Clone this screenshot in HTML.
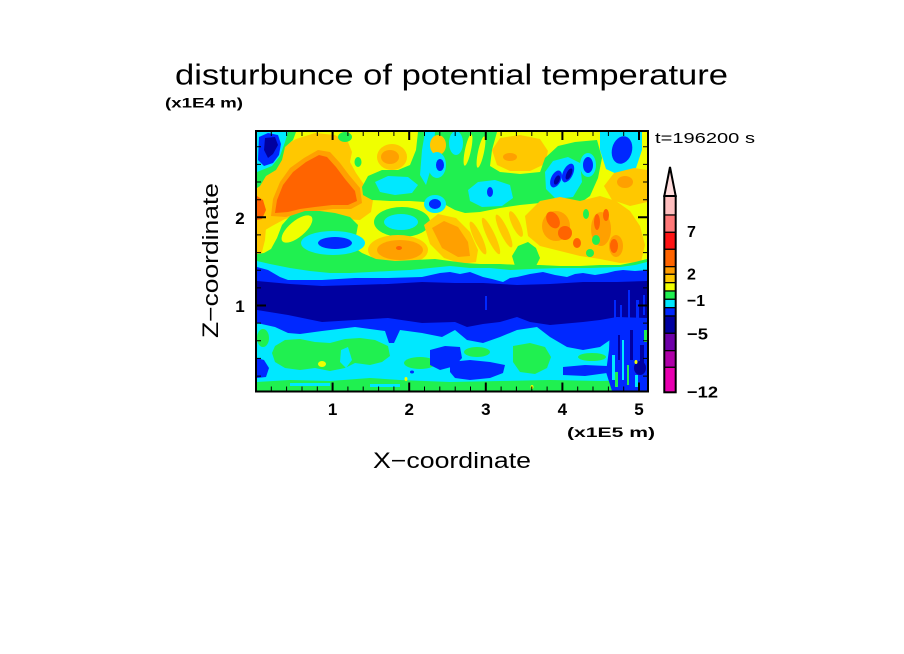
<!DOCTYPE html>
<html><head><meta charset="utf-8"><style>
html,body{margin:0;padding:0;background:#fff;}
svg{display:block;font-family:"Liberation Sans",sans-serif;}
</style></head><body>
<svg width="904" height="654" viewBox="0 0 904 654" xmlns="http://www.w3.org/2000/svg">
<defs><clipPath id="c"><rect x="257" y="132" width="390" height="258.5"/></clipPath></defs>
<rect x="0" y="0" width="904" height="654" fill="#fff"/>
<g clip-path="url(#c)">
<rect x="250" y="125" width="410" height="275" fill="#f0ff00"/>
<!-- big gold region -->
<path fill="#ffc800" d="M257,190 L262,172 L270,158 L282,147 L296,139 L315,133 L335,135 L348,142 L352,152 L350,162 L356,173 L365,186 L373,200 L371,212 L360,220 L340,219 L320,215 L300,215 L285,219 L272,226 L262,232 L257,235 Z"/>
<path fill="#ffc800" d="M257,195 L264,198 L267,215 L265,240 L261,256 L257,258 Z"/>
<path fill="#ffa000" d="M271,216 L273,199 L280,182 L290,168 L304,158 L318,150 L330,152 L340,163 L349,175 L360,188 L362,203 L351,209 L333,209 L316,211 L300,213 L286,217 Z"/>
<path fill="#ff6400" d="M275,213 L277,200 L283,185 L293,172 L306,162 L319,155 L327,157 L336,167 L345,179 L355,191 L357,201 L348,205 L332,205 L315,207 L300,209 L288,212 Z"/>
<path fill="#ff6400" d="M257,196 L263,200 L266,210 L262,219 L257,220 Z"/>
<!-- top-left blob -->
<path fill="#20f050" d="M257,132 L296,132 L293,140 L285,147 L282,160 L276,170 L266,176 L260,186 L257,188 Z"/>
<path fill="#00e8ff" d="M257,132 L288,132 L285,142 L280,156 L272,166 L262,170 L257,172 Z"/>
<path fill="#0028ff" d="M259,137 L268,133 L278,135 L281,144 L279,155 L273,163 L264,166 L258,160 Z"/>
<path fill="#0000a0" d="M265,138 L275,137 L278,145 L273,154 L268,158 L264,150 Z"/>
<ellipse cx="358" cy="162" rx="3.5" ry="5" fill="#20f050"/>
<ellipse cx="345" cy="137" rx="7" ry="5" fill="#20f050"/>
<!-- upper middle green band -->
<path fill="#20f050" d="M362,187 L368,176 L382,170 L398,170 L410,165 L416,150 L418,132 L497,132 L492,150 L490,166 L500,172 L520,174 L540,172 L556,172 L563,182 L557,196 L540,203 L520,205 L500,208 L480,212 L465,213 L455,210 L442,203 L425,202 L410,201 L390,201 L372,200 L363,195 Z"/>
<ellipse cx="468" cy="150" rx="3" ry="16" transform="rotate(12 468 150)" fill="#f0ff00"/>
<ellipse cx="481" cy="152" rx="3" ry="16" transform="rotate(12 481 152)" fill="#f0ff00"/>
<path fill="#00e8ff" d="M425,132 L435,132 L432,165 L426,185 L420,175 L422,150 Z"/>
<ellipse cx="456" cy="143" rx="7" ry="12" fill="#00e8ff"/>
<ellipse cx="438" cy="145" rx="8" ry="10" fill="#ffc800"/>
<ellipse cx="392" cy="157" rx="15" ry="13" fill="#ffc800"/>
<ellipse cx="390" cy="157" rx="9" ry="7" fill="#ffa000"/>
<path fill="#00e8ff" d="M375,182 L388,176 L408,177 L418,185 L412,193 L395,195 L380,192 Z"/>
<path fill="#00e8ff" d="M468,190 L478,182 L495,180 L510,185 L513,198 L502,206 L482,207 L470,201 Z"/>
<ellipse cx="490" cy="192" rx="3" ry="5" fill="#0028ff"/>
<ellipse cx="437" cy="165" rx="9" ry="13" fill="#00e8ff"/>
<ellipse cx="440" cy="165" rx="4" ry="6" fill="#0028ff"/>
<ellipse cx="435" cy="204" rx="11" ry="9" fill="#00e8ff"/>
<ellipse cx="435" cy="204" rx="6" ry="5" fill="#0028ff"/>
<ellipse cx="402" cy="222" rx="28" ry="15" fill="#20f050"/>
<ellipse cx="401" cy="222" rx="17" ry="8" fill="#00e8ff"/>
<ellipse cx="398" cy="250" rx="30" ry="15" fill="#ffc800"/>
<ellipse cx="400" cy="250" rx="23" ry="10" fill="#ffa000"/>
<ellipse cx="399" cy="248" rx="3" ry="2" fill="#ff6400"/>
<path fill="#ffc800" d="M424,225 L438,214 L456,218 L470,232 L478,250 L476,262 L462,264 L444,258 L430,244 Z"/>
<path fill="#ffa000" d="M432,228 L444,221 L458,227 L468,242 L470,256 L458,257 L442,248 Z"/>
<!-- right upper -->
<path fill="#ffc800" d="M492,150 L500,138 L520,135 L540,139 L548,151 L545,164 L530,171 L510,171 L497,165 Z"/>
<ellipse cx="510" cy="157" rx="7" ry="4" fill="#ffa000"/>
<path fill="#20f050" d="M538,178 L545,158 L558,146 L575,142 L597,140 L602,158 L598,178 L590,196 L576,206 L560,210 L546,202 Z"/>
<path fill="#00e8ff" d="M545,172 L553,161 L568,157 L580,163 L582,182 L573,197 L556,199 L546,189 Z"/>
<ellipse cx="556" cy="179" rx="5" ry="9" transform="rotate(25 556 179)" fill="#0028ff"/>
<ellipse cx="568" cy="173" rx="5" ry="10" transform="rotate(25 568 173)" fill="#0028ff"/>
<ellipse cx="557" cy="180" rx="2.5" ry="5" transform="rotate(25 557 180)" fill="#0000a0"/>
<ellipse cx="569" cy="174" rx="2.5" ry="6" transform="rotate(25 569 174)" fill="#0000a0"/>
<ellipse cx="588" cy="165" rx="8" ry="12" fill="#00e8ff"/>
<ellipse cx="588" cy="165" rx="5" ry="8" fill="#0028ff"/>
<path fill="#00e8ff" d="M600,132 L642,132 L642,150 L636,168 L621,176 L606,169 L600,150 Z"/>
<ellipse cx="622" cy="150" rx="10" ry="14" transform="rotate(15 622 150)" fill="#0028ff"/>
<path fill="#ffc800" d="M604,186 L614,173 L634,168 L647,170 L647,202 L630,206 L612,200 Z"/>
<ellipse cx="625" cy="182" rx="8" ry="6" fill="#ffa000"/>
<!-- middle right -->
<path fill="#ffc800" d="M525,216 L540,201 L560,197 L580,201 L600,196 L616,201 L630,211 L640,226 L645,245 L641,262 L620,263 L600,259 L580,256 L560,251 L540,246 L528,236 Z"/>
<ellipse cx="556" cy="226" rx="14" ry="15" fill="#ffa000"/>
<ellipse cx="601" cy="229" rx="10" ry="17" fill="#ffa000"/>
<ellipse cx="616" cy="246" rx="7" ry="11" fill="#ffa000"/>
<ellipse cx="553" cy="220" rx="6" ry="9" transform="rotate(-30 553 220)" fill="#ff6400"/>
<ellipse cx="565" cy="233" rx="7" ry="7" fill="#ff6400"/>
<ellipse cx="597" cy="222" rx="3" ry="8" fill="#ff6400"/>
<ellipse cx="577" cy="243" rx="4" ry="5" fill="#ff6400"/>
<ellipse cx="614" cy="246" rx="4" ry="7" fill="#ff6400"/>
<ellipse cx="606" cy="215" rx="3" ry="6" fill="#ff6400"/>
<ellipse cx="586" cy="214" rx="3" ry="5" fill="#20f050"/>
<ellipse cx="596" cy="240" rx="4" ry="5" fill="#20f050"/>
<ellipse cx="590" cy="253" rx="4" ry="4" fill="#20f050"/>
<ellipse cx="478" cy="238" rx="4" ry="18" transform="rotate(-25 478 238)" fill="#ffc800"/>
<ellipse cx="491" cy="236" rx="4" ry="20" transform="rotate(-25 491 236)" fill="#ffc800"/>
<ellipse cx="504" cy="231" rx="4" ry="18" transform="rotate(-25 504 231)" fill="#ffc800"/>
<ellipse cx="516" cy="224" rx="4" ry="14" transform="rotate(-25 516 224)" fill="#ffc800"/>
<path fill="#20f050" d="M512,256 L518,246 L528,242 L536,248 L540,258 L536,266 L515,266 Z"/>
<!-- lower zones -->
<path fill="#20f050" d="M257,254 L264,253 L271,249 L277,238 L282,225 L290,216 L305,211 L320,211 L335,213 L350,217 L358,225 L356,236 L352,246 L362,253 L376,259 L395,261 L415,260 L435,259 L450,261 L465,263 L480,264 L500,264 L520,265 L540,265 L560,266 L580,266 L600,265 L620,265 L635,262 L647,259 L647,391 L257,391 Z"/>
<ellipse cx="297" cy="229" rx="19" ry="8" transform="rotate(-40 297 229)" fill="#f0ff00"/>
<ellipse cx="333" cy="243" rx="32" ry="12" fill="#00e8ff"/>
<ellipse cx="335" cy="243" rx="17" ry="6" fill="#0028ff"/>
<path fill="#00e8ff" d="M257,261 L270,264 L290,268 L310,271 L330,273 L350,273 L370,272 L390,271 L410,270 L430,268 L450,266 L470,268 L490,268 L510,270 L530,269 L560,268 L590,268 L620,267 L635,265 L647,262 L647,391 L257,391 Z"/>
<path fill="#0028ff" d="M257,267 L268,270 L280,277 L288,280 L322,280 L355,278 L388,278 L422,277 L440,273 L450,272 L460,274 L470,272 L483,277 L492,279 L503,282 L510,278 L517,277 L530,274 L543,272 L555,275 L567,277 L575,274 L583,273 L595,275 L607,273 L615,271 L623,270 L635,271 L647,270 L647,330 L623,330 L610,340 L600,347 L583,350 L567,347 L550,337 L537,327 L517,330 L500,337 L483,343 L467,340 L455,330 L442,337 L422,333 L400,330 L394,343 L389,343 L385,331 L355,327 L322,331 L300,334 L288,333 L275,327 L257,323 Z"/>
<path fill="#0000a0" d="M257,281 L290,284 L322,286 L355,285 L388,284 L422,282 L455,283 L483,283 L517,285 L550,284 L583,282 L617,282 L647,281 L647,318 L617,317 L600,320 L583,322 L550,325 L530,322 L517,317 L500,322 L483,324 L467,327 L455,322 L422,323 L388,318 L355,320 L322,322 L288,315 L257,310 Z"/>
<g fill="#0028ff">
<rect x="485" y="296" width="2" height="14"/>
<rect x="614" y="300" width="2" height="20"/>
<rect x="620" y="305" width="2" height="18"/>
<rect x="628" y="290" width="2" height="30"/>
<rect x="636" y="300" width="3" height="25"/>
<rect x="643" y="295" width="2" height="20"/>
</g>
<!-- lower patches -->
<ellipse cx="263" cy="338" rx="6" ry="9" fill="#20f050"/>
<path fill="#20f050" d="M275,346 L285,340 L300,339 L315,342 L330,343 L345,339 L360,338 L375,340 L388,346 L390,356 L382,362 L370,365 L355,363 L345,368 L330,371 L315,368 L300,370 L285,368 L275,362 L272,353 Z"/>
<path fill="#00e8ff" d="M341,350 L348,347 L352,360 L346,368 L340,362 Z"/>
<ellipse cx="420" cy="363" rx="16" ry="6" fill="#20f050"/>
<path fill="#20f050" d="M513,346 L530,343 L545,347 L551,357 L547,368 L535,374 L520,372 L513,362 Z"/>
<ellipse cx="477" cy="352" rx="13" ry="5" fill="#20f050"/>
<ellipse cx="592" cy="357" rx="14" ry="4" fill="#20f050"/>
<path fill="#20f050" d="M257,382 L290,380 L330,381 L370,378 L400,380 L450,382 L500,381 L550,380 L600,381 L647,380 L647,391 L257,391 Z"/>
<rect x="290" y="383" width="40" height="3" fill="#00e8ff"/>
<rect x="370" y="384" width="30" height="3" fill="#00e8ff"/>
<path fill="#0028ff" d="M257,358 L264,360 L269,368 L266,377 L257,378 Z"/>
<path fill="#0028ff" d="M430,350 L445,346 L460,347 L462,358 L455,366 L440,370 L430,365 Z"/>
<path fill="#0028ff" d="M450,362 L470,360 L490,362 L505,365 L503,373 L490,378 L470,380 L455,378 L450,372 Z"/>
<path fill="#0028ff" d="M563,367 L585,365 L607,366 L607,373 L585,376 L563,375 Z"/>
<path fill="#0028ff" d="M610,326 L625,320 L647,318 L647,391 L612,391 L606,372 L609,350 Z"/>
<g fill="#0000a0">
<rect x="630" y="330" width="3" height="30"/>
<rect x="618" y="335" width="2" height="25"/>
<rect x="640" y="345" width="4" height="25"/>
<ellipse cx="640" cy="368" rx="6" ry="7"/>
</g>
<g fill="#00e8ff">
<rect x="622" y="340" width="2" height="40"/>
<rect x="612" y="355" width="3" height="25"/>
<rect x="635" y="375" width="3" height="12"/>
</g>
<g fill="#20f050">
<rect x="627" y="365" width="2" height="20"/>
<rect x="615" y="372" width="3" height="15"/>
<rect x="644" y="330" width="3" height="12"/>
</g>
<g fill="#f0ff00">
<ellipse cx="322" cy="364" rx="4" ry="3"/>
<ellipse cx="406" cy="379" rx="1.5" ry="2"/>
<ellipse cx="532" cy="387" rx="1.5" ry="2"/>
<ellipse cx="636" cy="362" rx="1.5" ry="2"/>
</g>
<ellipse cx="412" cy="372" rx="2" ry="1.5" fill="#0028ff"/>
</g>
<!-- frame -->
<rect x="256" y="131" width="392" height="260.5" fill="none" stroke="#000" stroke-width="2"/>
<!-- minor ticks -->
<path stroke="#000" stroke-width="1" fill="none" d="
M271.3,390.5v-4M286.6,390.5v-4M302,390.5v-4M317.3,390.5v-4M347.9,390.5v-4M363.2,390.5v-4M378.6,390.5v-4M393.9,390.5v-4M424.5,390.5v-4M439.8,390.5v-4M455.2,390.5v-4M470.5,390.5v-4M501.1,390.5v-4M516.4,390.5v-4M531.8,390.5v-4M547.1,390.5v-4M577.7,390.5v-4M593,390.5v-4M608.4,390.5v-4M623.7,390.5v-4
M271.3,132v4M286.6,132v4M302,132v4M317.3,132v4M347.9,132v4M363.2,132v4M378.6,132v4M393.9,132v4M424.5,132v4M439.8,132v4M455.2,132v4M470.5,132v4M501.1,132v4M516.4,132v4M531.8,132v4M547.1,132v4M577.7,132v4M593,132v4M608.4,132v4M623.7,132v4
M257,376.1h4M257,358.4h4M257,340.8h4M257,323.1h4M257,287.9h4M257,270.2h4M257,252.6h4M257,234.9h4M257,199.7h4M257,182h4M257,164.4h4M257,146.7h4
M647,376.1h-4M647,358.4h-4M647,340.8h-4M647,323.1h-4M647,287.9h-4M647,270.2h-4M647,252.6h-4M647,234.9h-4M647,199.7h-4M647,182h-4M647,164.4h-4M647,146.7h-4"/>
<path stroke="#000" stroke-width="2" fill="none" d="
M332.6,390.5v-8M409.2,390.5v-8M485.8,390.5v-8M562.4,390.5v-8M639,390.5v-8
M332.6,132v8M409.2,132v8M485.8,132v8M562.4,132v8M639,132v8
M257,305.5h9M257,217.3h9M647,305.5h-9M647,217.3h-9"/>
<!-- texts -->
<text x="175" y="84.5" font-size="29" textLength="553" lengthAdjust="spacingAndGlyphs" fill="#000">disturbunce of potential temperature</text>
<text x="165" y="107.5" font-size="14" font-weight="bold" textLength="78" lengthAdjust="spacingAndGlyphs" fill="#000">(x1E4 m)</text>
<text x="655" y="143" font-size="15" textLength="100" lengthAdjust="spacingAndGlyphs" fill="#000">t=196200 s</text>
<g font-size="17" font-weight="bold" text-anchor="middle" fill="#000">
<text x="240" y="224">2</text>
<text x="240" y="312">1</text>
<text x="332.6" y="415">1</text>
<text x="409.2" y="415">2</text>
<text x="485.8" y="415">3</text>
<text x="562.4" y="415">4</text>
<text x="639" y="415">5</text>
</g>
<text x="567" y="437" font-size="14" font-weight="bold" textLength="88" lengthAdjust="spacingAndGlyphs" fill="#000">(x1E5 m)</text>
<text x="373" y="468" font-size="22" textLength="158" lengthAdjust="spacingAndGlyphs" fill="#000">X−coordinate</text>
<text transform="translate(218,338) rotate(-90)" x="0" y="0" font-size="22" textLength="155" lengthAdjust="spacingAndGlyphs" fill="#000">Z−coordinate</text>
<!-- colorbar -->
<polygon points="664.3,196 670,167 675.7,196" fill="#ffdcdc" stroke="#000" stroke-width="2" stroke-linejoin="miter"/>
<g stroke="#000" stroke-width="1.2">
<rect x="664.3" y="196" width="11.4" height="19" fill="#ffbebe"/>
<rect x="664.3" y="215" width="11.4" height="17.3" fill="#ff7878"/>
<rect x="664.3" y="232.3" width="11.4" height="17" fill="#ff1414"/>
<rect x="664.3" y="249.3" width="11.4" height="17.4" fill="#ff6400"/>
<rect x="664.3" y="266.7" width="11.4" height="7.6" fill="#ff9c00"/>
<rect x="664.3" y="274.3" width="11.4" height="8.4" fill="#ffc800"/>
<rect x="664.3" y="282.7" width="11.4" height="8.3" fill="#f0ff00"/>
<rect x="664.3" y="291" width="11.4" height="8.3" fill="#20f050"/>
<rect x="664.3" y="299.3" width="11.4" height="8.4" fill="#00e8ff"/>
<rect x="664.3" y="307.7" width="11.4" height="8.3" fill="#0028ff"/>
<rect x="664.3" y="316" width="11.4" height="17.3" fill="#0000a0"/>
<rect x="664.3" y="333.3" width="11.4" height="17.4" fill="#6e00a8"/>
<rect x="664.3" y="350.7" width="11.4" height="16.6" fill="#b000a8"/>
<rect x="664.3" y="367.3" width="11.4" height="25" fill="#e800b0"/>
</g>
<rect x="664.3" y="196" width="11.4" height="196.3" fill="none" stroke="#000" stroke-width="2"/>
<g font-size="16" font-weight="bold" fill="#000">
<text x="687" y="237">7</text>
<text x="687" y="279.5">2</text>
<text x="687" y="306" textLength="18" lengthAdjust="spacingAndGlyphs">−1</text>
<text x="687" y="339.5" textLength="21" lengthAdjust="spacingAndGlyphs">−5</text>
<text x="687" y="397.5" textLength="31" lengthAdjust="spacingAndGlyphs">−12</text>
</g>
</svg>
</body></html>
